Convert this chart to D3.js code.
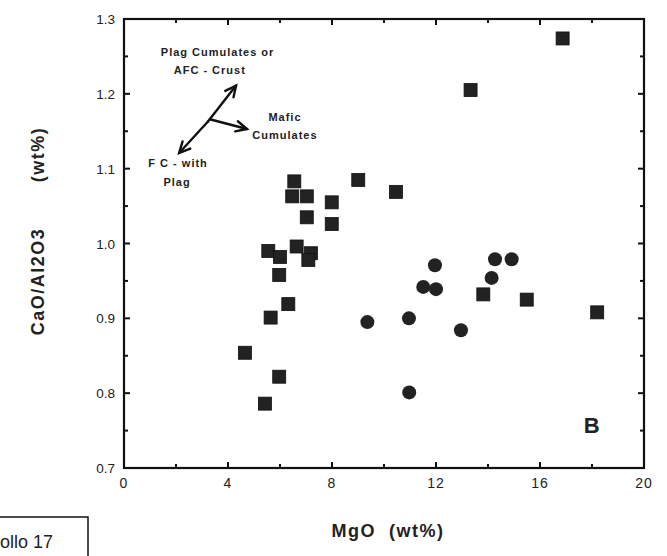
<!DOCTYPE html>
<html>
<head>
<meta charset="utf-8">
<script src="https://cdn.jsdelivr.net/npm/d3@7"></script>
<style>
  body { margin: 0; background: #fff; }
  svg { display: block; font-family: "Liberation Sans", Arial, Helvetica, sans-serif; }
</style>
</head>
<body>
<div id="chart"></div>
<script>
// squares (MgO wt%, CaO/Al2O3)
const squareMgO = [4.65, 5.42, 5.64, 5.55, 6.0, 5.97, 5.97, 6.32, 6.55, 6.47, 7.03, 7.99, 9.01, 7.03, 7.99, 6.64, 7.19, 7.09, 10.46, 13.33, 16.87, 13.82, 15.49, 18.2];
const squareRatio = [0.854, 0.786, 0.901, 0.990, 0.982, 0.958, 0.822, 0.919, 1.083, 1.063, 1.063, 1.055, 1.085, 1.035, 1.026, 0.996, 0.987, 0.978, 1.069, 1.205, 1.274, 0.932, 0.925, 0.908];

// circles
const circleMgO = [11.96, 11.51, 12.0, 14.27, 14.91, 14.14, 9.36, 10.96, 12.96, 10.97];
const circleRatio = [0.971, 0.942, 0.939, 0.979, 0.979, 0.954, 0.895, 0.900, 0.884, 0.801];

const xTickLabels = [0, 4, 8, 12, 16, 20];
const yTickLabels = [0.7, 0.8, 0.9, 1.0, 1.1, 1.2, 1.3];

// annotation text, in data units
const notes = [
  { text: 'Plag Cumulates or', x: 3.6, y: 1.251 },
  { text: 'AFC - Crust', x: 3.3, y: 1.227 },
  { text: 'Mafic', x: 6.19, y: 1.164 },
  { text: 'Cumulates', x: 6.19, y: 1.140 },
  { text: 'F C - with', x: 2.08, y: 1.102 },
  { text: 'Plag', x: 2.04, y: 1.077 },
];
// arrows: [from, to]
const arrows = [
  [[3.23, 1.163], [4.31, 1.211]],
  [[3.23, 1.163], [2.12, 1.121]],
  [[3.3, 1.166], [4.73, 1.153]],
];

const svgWidth = 667;
const svgHeight = 556;
const margin = { top: 19, right: 23, bottom: 88, left: 124 };
const chartWidth = svgWidth - margin.left - margin.right;
const chartHeight = svgHeight - margin.top - margin.bottom;

const svg = d3.select('#chart').append('svg')
  .attr('width', svgWidth)
  .attr('height', svgHeight);

const g = svg.append('g').attr('transform', `translate(${margin.left}, ${margin.top})`);

const x = d3.scaleLinear().domain([0, 20]).range([0, chartWidth]);
const y = d3.scaleLinear().domain([0.7, 1.3]).range([chartHeight, 0]);

const xMinor = d3.range(0, 20.01, 2);
const yMinor = d3.range(0.7, 1.301, 0.05);

function tickAxes() {
  const ax = g.append('g').attr('stroke', '#111').attr('stroke-width', 2);
  xMinor.forEach((v) => {
    const len = v % 4 === 0 ? 6 : 4;
    ax.append('line').attr('x1', x(v)).attr('x2', x(v)).attr('y1', chartHeight).attr('y2', chartHeight - len);
    ax.append('line').attr('x1', x(v)).attr('x2', x(v)).attr('y1', 0).attr('y2', len);
  });
  yMinor.forEach((v, i) => {
    const len = i % 2 === 0 ? 6 : 4;
    ax.append('line').attr('x1', 0).attr('x2', len).attr('y1', y(v)).attr('y2', y(v));
    ax.append('line').attr('x1', chartWidth).attr('x2', chartWidth - len).attr('y1', y(v)).attr('y2', y(v));
  });
}
tickAxes();

g.append('rect')
  .attr('width', chartWidth)
  .attr('height', chartHeight)
  .attr('fill', 'none')
  .attr('stroke', '#111')
  .attr('stroke-width', 2.2);

// tick labels
g.append('g').selectAll('text')
  .data(xTickLabels)
  .enter()
  .append('text')
  .attr('x', (d) => x(d))
  .attr('y', chartHeight + 20)
  .attr('text-anchor', 'middle')
  .attr('font-size', '14px')
  .attr('letter-spacing', '1px')
  .attr('fill', '#222')
  .text((d) => d);

g.append('g').selectAll('text')
  .data(yTickLabels)
  .enter()
  .append('text')
  .attr('x', -9)
  .attr('y', (d) => y(d) + 5)
  .attr('text-anchor', 'end')
  .attr('font-size', '13.5px')
  .attr('fill', '#222')
  .text((d) => d.toFixed(1));

// axis titles
svg.append('text')
  .attr('x', 388)
  .attr('y', 537)
  .attr('text-anchor', 'middle')
  .attr('font-size', '18px')
  .attr('font-weight', 'bold')
  .attr('letter-spacing', '1.5px')
  .attr('fill', '#222')
  .attr('xml:space', 'preserve')
  .text('MgO  (wt%)');

svg.append('text')
  .attr('transform', 'translate(44, 231) rotate(-90)')
  .attr('text-anchor', 'middle')
  .attr('font-size', '18px')
  .attr('font-weight', 'bold')
  .attr('letter-spacing', '1.5px')
  .attr('fill', '#222')
  .attr('xml:space', 'preserve')
  .text('CaO/Al2O3       (wt%)');

// data marks
const sq = 13;
g.append('g').selectAll('rect')
  .data(d3.zip(squareMgO, squareRatio))
  .enter()
  .append('rect')
  .attr('x', (d) => x(d[0]) - sq / 2)
  .attr('y', (d) => y(d[1]) - sq / 2)
  .attr('width', sq)
  .attr('height', sq)
  .attr('fill', '#222')
  .attr('stroke', '#111')
  .attr('stroke-width', 0.8);

g.append('g').selectAll('circle')
  .data(d3.zip(circleMgO, circleRatio))
  .enter()
  .append('circle')
  .attr('cx', (d) => x(d[0]))
  .attr('cy', (d) => y(d[1]))
  .attr('r', 7)
  .attr('fill', '#222');

// annotations
g.append('g').selectAll('text')
  .data(notes)
  .enter()
  .append('text')
  .attr('x', (d) => x(d.x))
  .attr('y', (d) => y(d.y))
  .attr('text-anchor', 'middle')
  .attr('font-size', '11px')
  .attr('font-weight', 'bold')
  .attr('letter-spacing', '1px')
  .attr('fill', '#222')
  .text((d) => d.text);

const arrowGroup = g.append('g')
  .attr('stroke', '#111')
  .attr('stroke-width', 2.4)
  .attr('fill', 'none')
  .attr('stroke-linecap', 'round');

arrows.forEach(([from, to]) => {
  const x1 = x(from[0]), y1 = y(from[1]);
  const x2 = x(to[0]), y2 = y(to[1]);
  arrowGroup.append('line').attr('x1', x1).attr('y1', y1).attr('x2', x2).attr('y2', y2);
  const ang = Math.atan2(y2 - y1, x2 - x1);
  const head = 12;
  const spread = 0.45;
  const path = d3.path();
  path.moveTo(x2 - head * Math.cos(ang - spread), y2 - head * Math.sin(ang - spread));
  path.lineTo(x2, y2);
  path.lineTo(x2 - head * Math.cos(ang + spread), y2 - head * Math.sin(ang + spread));
  arrowGroup.append('path').attr('d', path.toString());
});

g.append('text')
  .attr('x', x(17.99))
  .attr('y', y(0.747))
  .attr('text-anchor', 'middle')
  .attr('font-size', '22px')
  .attr('font-weight', 'bold')
  .attr('fill', '#222')
  .text('B');

// sample label box, cut off at the left
svg.append('rect')
  .attr('x', -10)
  .attr('y', 517)
  .attr('width', 98)
  .attr('height', 50)
  .attr('fill', 'none')
  .attr('stroke', '#111')
  .attr('stroke-width', 1.5);

svg.append('text')
  .attr('x', 0)
  .attr('y', 548)
  .attr('font-size', '18px')
  .attr('fill', '#222')
  .text('ollo 17');
</script>
</body>
</html>
